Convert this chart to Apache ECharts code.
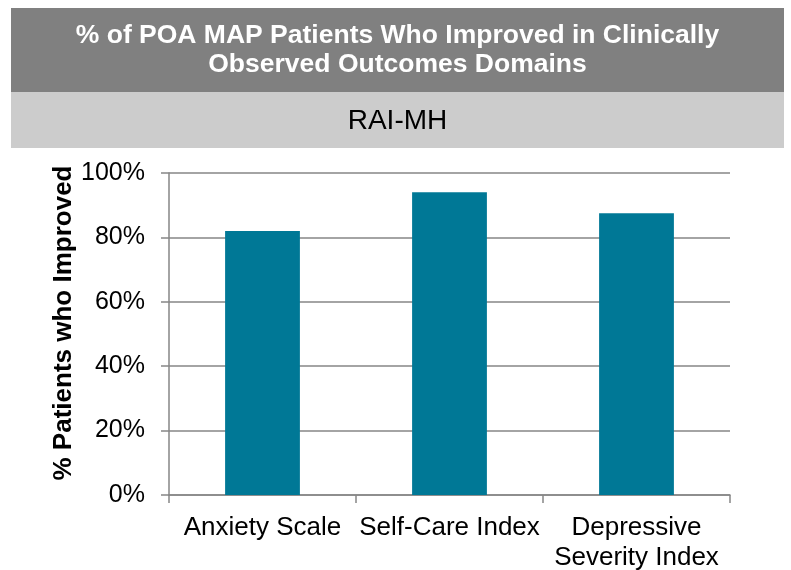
<!DOCTYPE html>
<html>
<head>
<meta charset="utf-8">
<script src="https://cdn.jsdelivr.net/npm/echarts@6/dist/echarts.min.js"></script>
<style>
html,body{margin:0;padding:0;background:#fff;}
#chart{width:791px;height:570px;}
</style>
</head>
<body>
<div id="chart"></div>
<script>
const categories = ['Anxiety Scale', 'Self-Care Index', 'Depressive\nSeverity Index'];
const values = [82, 94, 87.5];
const yTicks = [0, 20, 40, 60, 80, 100];
const titleText = '% of POA MAP Patients Who Improved in Clinically\nObserved Outcomes Domains';
const subtitleText = 'RAI-MH';
const yAxisName = '% Patients who Improved';

const FONT = '"Liberation Sans", Arial, sans-serif';
const chart = echarts.init(document.getElementById('chart'), null, {renderer: 'canvas'});
chart.setOption({
  animation: false,
  backgroundColor: '#ffffff',
  graphic: [
    {type: 'rect', left: 11, top: 8, shape: {width: 773, height: 84}, style: {fill: '#808080'}, silent: true},
    {type: 'rect', left: 11, top: 92, shape: {width: 773, height: 56}, style: {fill: '#cccccc'}, silent: true},
    {type: 'text', x: 397.5, y: 50.5, style: {text: titleText, fill: '#ffffff', font: 'bold 26.5px ' + FONT, align: 'center', verticalAlign: 'middle', lineHeight: 29}, silent: true},
    {type: 'text', x: 397.5, y: 121, style: {text: subtitleText, fill: '#000000', font: '28px ' + FONT, align: 'center', verticalAlign: 'middle'}, silent: true},
    {type: 'text', x: 63.5, y: 323, rotation: Math.PI / 2, style: {text: yAxisName, fill: '#000000', font: 'bold 26px ' + FONT, align: 'center', verticalAlign: 'middle'}, silent: true}
  ],
  grid: {left: 169, right: 61, top: 173, bottom: 75, containLabel: false, outerBoundsMode: 'none'},
  xAxis: {
    type: 'category',
    data: categories,
    axisLine: {show: true, lineStyle: {color: '#868686', width: 1.5}},
    axisTick: {show: true, length: 8, alignWithLabel: false, lineStyle: {color: '#868686', width: 1.5}},
    axisLabel: {color: '#000', fontFamily: FONT, fontSize: 26, margin: 18, lineHeight: 30, interval: 0}
  },
  yAxis: {
    type: 'value',
    min: 0, max: 100, interval: 20,
    axisLine: {show: true, lineStyle: {color: '#868686', width: 1.5}},
    axisTick: {show: true, length: 8, lineStyle: {color: '#868686', width: 1.5}},
    axisLabel: {color: '#000', fontFamily: FONT, fontSize: 25, margin: 24, formatter: v => yTicks.includes(v) ? v + '%' : ''},
    splitLine: {show: true, lineStyle: {color: '#868686', width: 1.5}}
  },
  series: [{
    type: 'bar',
    data: values,
    barWidth: '40%',
    itemStyle: {color: '#007896'},
    silent: true
  }]
});
</script>
</body>
</html>
